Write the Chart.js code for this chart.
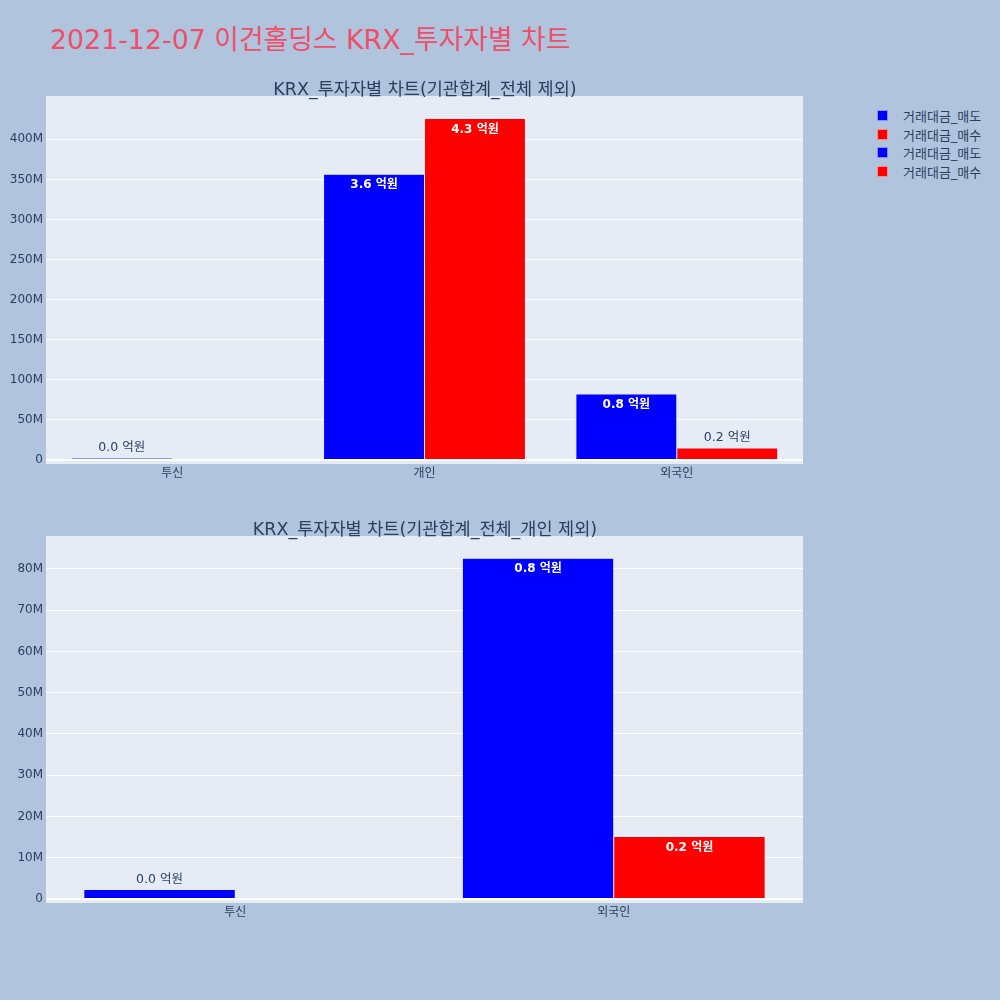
<!DOCTYPE html>
<html>
<head>
<meta charset="utf-8">
<script src="https://cdn.jsdelivr.net/npm/chart.js@4.4.0/dist/chart.umd.min.js"></script>
<style>
  html, body { margin: 0; padding: 0; }
  body { width: 1000px; height: 1000px; background: #B0C4DE; position: relative; overflow: hidden;
         font-family: "DejaVu Sans", "Noto Sans CJK KR", sans-serif; }
  .abs { position: absolute; }
  #title { left: 50px; top: 24px; font-size: 26.8px; color: #EE4E6A; white-space: nowrap; line-height: 1.2; }
  .sub { font-size: 17.5px; color: #2a3f5f; white-space: nowrap; transform: translateX(-50%); z-index: 2; line-height: 1.2; }
  #legend { left: 877px; top: 106px; font-size: 13px; color: #2a3f5f; }
  .item { height: 18.7px; display: flex; align-items: center; }
  .sw { width: 11px; height: 11px; margin-right: 15px; box-sizing: border-box; border: 1px solid rgba(229,236,246,0.6); }
</style>
</head>
<body>
<div id="title" class="abs">2021-12-07 이건홀딩스 KRX_투자자별 차트</div>
<div class="abs sub" style="left:425px; top:79px;">KRX_투자자별 차트(기관합계_전체 제외)</div>
<div class="abs sub" style="left:425px; top:519px;">KRX_투자자별 차트(기관합계_전체_개인 제외)</div>
<div id="legend" class="abs"></div>
<div class="abs" style="left:0; top:80px; width:815px; height:410px;"><canvas id="c1"></canvas></div>
<div class="abs" style="left:0; top:520px; width:815px; height:410px;"><canvas id="c2"></canvas></div>
<script>
// ---- data ----
const categoriesTop = ["투신", "개인", "외국인"];
const sellTop = [2300000, 356500000, 82400000];
const buyTop = [null, 426000000, 15100000];
const ticksTop = [0, 50e6, 100e6, 150e6, 200e6, 250e6, 300e6, 350e6, 400e6];

const categoriesBottom = ["투신", "외국인"];
const sellBottom = [2300000, 82600000];
const buyBottom = [null, 15100000];
const ticksBottom = [0, 10e6, 20e6, 30e6, 40e6, 50e6, 60e6, 70e6, 80e6];

const seriesNames = ["거래대금_매도", "거래대금_매수"];
const seriesColors = ["#0000FF", "#FF0000"];

// ---- legend (HTML) ----
const legend = document.getElementById('legend');
[0, 1, 0, 1].forEach(i => {
  const d = document.createElement('div');
  d.className = 'item';
  d.innerHTML = '<span class="sw" style="background:' + seriesColors[i] + '"></span><span>' + seriesNames[i] + '</span>';
  legend.appendChild(d);
});

const FONT = '"DejaVu Sans", "Noto Sans CJK KR", sans-serif';

const bgPlugin = {
  id: 'plotbg',
  beforeDraw(chart) {
    const a = chart.chartArea, ctx = chart.ctx;
    ctx.save();
    ctx.fillStyle = '#E5ECF6';
    ctx.fillRect(a.left, a.top, a.right - a.left, a.bottom - a.top);
    ctx.restore();
  }
};

const labelPlugin = {
  id: 'barlabels',
  afterDatasetsDraw(chart) {
    const ctx = chart.ctx;
    ctx.save();
    ctx.textAlign = 'center';
    ctx.textBaseline = 'middle';
    chart.data.datasets.forEach((ds, di) => {
      const meta = chart.getDatasetMeta(di);
      meta.data.forEach((el, i) => {
        const v = ds.data[i];
        if (v === null || v === undefined) return;
        const txt = (v / 1e8).toFixed(1) + ' 억원';
        const h = el.base - el.y;
        if (h > 24) {
          ctx.font = 'bold 12px ' + FONT;
          ctx.fillStyle = '#FFFFFF';
          ctx.fillText(txt, el.x, el.y + 11);
        } else {
          ctx.font = '12.5px ' + FONT;
          ctx.fillStyle = '#2a3f5f';
          ctx.fillText(txt, el.x, el.y - 10);
        }
      });
    });
    ctx.restore();
  }
};

function makeChart(id, cats, sell, buy, tickVals, yMin, yMax, xH) {
  return new Chart(document.getElementById(id), {
    type: 'bar',
    data: {
      labels: cats,
      datasets: [
        { label: seriesNames[0], data: sell, backgroundColor: seriesColors[0], borderColor: '#E5ECF6', borderWidth: 0.5 },
        { label: seriesNames[1], data: buy, backgroundColor: seriesColors[1], borderColor: '#E5ECF6', borderWidth: 0.5 }
      ]
    },
    options: {
      responsive: true,
      maintainAspectRatio: false,
      animation: false,
      layout: { padding: { top: 16, right: 12, left: 0, bottom: 0 } },
      plugins: { legend: { display: false }, tooltip: { enabled: false } },
      datasets: { bar: { categoryPercentage: 0.8, barPercentage: 1.0 } },
      scales: {
        x: {
          grid: { display: false },
          border: { display: false },
          ticks: { color: '#2a3f5f', font: { size: 12, family: FONT }, padding: -5, maxRotation: 0 },
          afterFit(s) { s.height = xH; }
        },
        y: {
          min: yMin, max: yMax,
          border: { display: false },
          grid: {
            color: '#FFFFFF',
            lineWidth: c => (c.tick && c.tick.value === 0) ? 2 : 1,
            drawTicks: false
          },
          ticks: {
            color: '#2a3f5f', font: { size: 12, family: FONT }, padding: 3,
            callback: v => v === 0 ? '0' : (v / 1e6) + 'M'
          },
          afterBuildTicks(s) { s.ticks = tickVals.map(v => ({ value: v })); },
          afterFit(s) { s.width = 46; }
        }
      }
    },
    plugins: [bgPlugin, labelPlugin]
  });
}

makeChart('c1', categoriesTop, sellTop, buyTop, ticksTop, -5e6, 454e6, 26);
makeChart('c2', categoriesBottom, sellBottom, buyBottom, ticksBottom, -1e6, 88e6, 27);
</script>
</body>
</html>
